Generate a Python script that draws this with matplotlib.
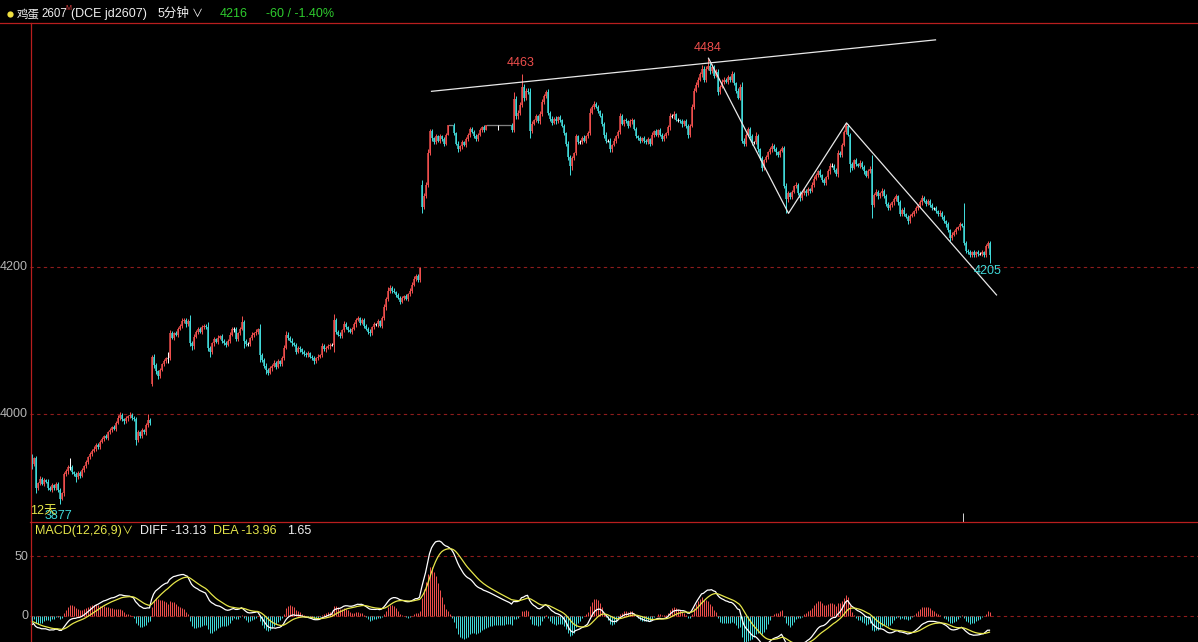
import matplotlib
matplotlib.use("Agg")
import matplotlib.pyplot as plt
from matplotlib.lines import Line2D
import numpy as np

# ---------------- data (5-minute bars) ----------------
first_open = 3944
gap_idx = [60, 195]          # session opens with a price gap
gap_open = [4041, 4312]

close = [
    3932, 3940, 3899, 3906, 3912, 3905, 3910, 3908, 3900, 3897,
    3903, 3899, 3905, 3896, 3885, 3892, 3918, 3922, 3928, 3928,
    3921, 3918, 3914, 3920, 3916, 3924, 3929, 3935, 3941, 3946,
    3950, 3953, 3958, 3955, 3962, 3966, 3970, 3968, 3975, 3978,
    3982, 3980, 3988, 3995, 3999, 3993, 3990, 3994, 3997, 3999,
    3995, 3993, 3965, 3975, 3970, 3978, 3975, 3985, 3992, 3988,
    4077, 4067, 4058, 4052, 4060, 4068, 4072, 4076, 4076, 4110,
    4104, 4110, 4108, 4116, 4120, 4126, 4128, 4122, 4126, 4096,
    4092, 4105, 4112, 4116, 4112, 4118, 4120, 4118, 4090, 4084,
    4096, 4102, 4098, 4104, 4106, 4100, 4096, 4094, 4100, 4108,
    4115, 4115, 4102, 4110, 4116, 4125, 4100, 4095, 4095, 4103,
    4108, 4110, 4112, 4115, 4080, 4074, 4066, 4060, 4056, 4062,
    4066, 4070, 4064, 4072, 4068, 4076, 4090, 4108, 4104, 4100,
    4096, 4094, 4085, 4090, 4088, 4084, 4082, 4080, 4083, 4078,
    4076, 4072, 4076, 4078, 4080, 4092, 4088, 4090, 4092, 4094,
    4094, 4128, 4112, 4108, 4106, 4114, 4122, 4118, 4114, 4112,
    4116, 4122, 4128, 4130, 4124, 4128, 4120, 4116, 4112, 4110,
    4118, 4122, 4122, 4126, 4120, 4130, 4145, 4156, 4168, 4172,
    4168, 4166, 4162, 4158, 4153, 4158, 4160, 4157, 4163, 4168,
    4176, 4184, 4188, 4182, 4198, 4282, 4296, 4312, 4355, 4385,
    4375, 4370, 4378, 4372, 4378, 4374, 4368, 4380, 4393, 4393,
    4393, 4382, 4368, 4360, 4364, 4370, 4366, 4374, 4380, 4388,
    4384, 4378, 4374, 4380, 4386, 4390, 4386, 4393, 4393, 4393,
    4393, 4393, 4393, 4393, 4393, 4393, 4393, 4393, 4393, 4393,
    4386, 4428, 4405, 4410, 4420, 4445, 4430, 4440, 4438, 4385,
    4395, 4400, 4405, 4398, 4408, 4425, 4432, 4438, 4410, 4402,
    4396, 4402, 4398, 4404, 4400, 4392, 4382, 4368, 4350, 4338,
    4348, 4355, 4378, 4370, 4370, 4376, 4372, 4378, 4382, 4410,
    4418, 4422, 4418, 4412, 4406, 4395, 4380, 4372, 4372, 4360,
    4366, 4372, 4378, 4384, 4405, 4395, 4400, 4398, 4392, 4398,
    4400, 4388, 4378, 4375, 4372, 4375, 4372, 4370, 4374, 4368,
    4380, 4385, 4380, 4386, 4380, 4374, 4378, 4382, 4390, 4405,
    4405, 4408, 4400, 4400, 4398, 4394, 4398, 4392, 4380, 4392,
    4418, 4440, 4448, 4455, 4462, 4470, 4455, 4470, 4474, 4466,
    4472, 4460, 4465, 4438, 4445, 4452, 4455, 4452, 4458, 4454,
    4462, 4450, 4440, 4430, 4445, 4372, 4368, 4380, 4388, 4378,
    4370, 4370, 4378, 4360, 4348, 4335, 4345, 4350, 4356, 4360,
    4365, 4360, 4356, 4352, 4358, 4362, 4310, 4292, 4300, 4295,
    4302, 4310, 4312, 4300, 4294, 4300, 4304, 4300, 4306, 4304,
    4312, 4320, 4325, 4330, 4325, 4318, 4314, 4322, 4330, 4338,
    4338, 4332, 4326, 4355, 4352, 4366, 4384, 4392, 4380, 4340,
    4335, 4345, 4340, 4338, 4342, 4336, 4330, 4324, 4330, 4334,
    4285, 4298, 4302, 4296, 4300, 4304, 4296, 4286, 4280, 4284,
    4288, 4292, 4296, 4288, 4272, 4278, 4272, 4268, 4262, 4270,
    4272, 4276, 4280, 4284, 4288, 4294, 4290, 4286, 4290, 4284,
    4280, 4280, 4276, 4272, 4274, 4268, 4262, 4258, 4250, 4240,
    4244, 4248, 4252, 4254, 4258, 4256, 4232, 4222, 4220, 4216,
    4220, 4216, 4220, 4218, 4218, 4220, 4216, 4228, 4232, 4216,
]

wick_up = [
    2, 2, 3, 2, 3, 2, 3, 2, 3, 2, 3, 2, 3, 2, 4, 2, 3, 3, 2, 12,
    3, 2, 3, 2, 3, 2, 2, 3, 2, 3, 2, 3, 2, 3, 2, 3, 2, 3, 2, 3,
    2, 3, 2, 3, 4, 3, 2, 3, 2, 4, 3, 2, 3, 3, 2, 3, 2, 3, 8, 3,
    3, 4, 3, 2, 3, 2, 3, 2, 9, 4, 3, 2, 3, 2, 3, 4, 3, 2, 3, 9,
    3, 4, 2, 3, 2, 3, 2, 3, 7, 3, 2, 3, 2, 3, 2, 3, 2, 3, 2, 3,
    3, 4, 3, 2, 3, 8, 3, 2, 3, 2, 3, 2, 3, 2, 7, 3, 2, 3, 2, 3,
    2, 3, 2, 3, 2, 3, 4, 5, 3, 2, 3, 2, 3, 2, 3, 2, 3, 2, 3, 2,
    2, 3, 2, 3, 2, 4, 3, 2, 3, 2, 3, 8, 3, 2, 3, 2, 4, 3, 2, 3,
    2, 3, 3, 4, 2, 3, 2, 3, 2, 3, 2, 3, 2, 3, 2, 3, 4, 3, 5, 3,
    2, 3, 2, 3, 2, 3, 2, 3, 2, 3, 3, 4, 3, 2, 2, 6, 4, 4, 6, 3,
    3, 2, 3, 2, 3, 2, 3, 2, 0, 0, 0, 3, 2, 3, 2, 3, 2, 3, 2, 3,
    3, 2, 3, 2, 3, 2, 3, 0, 0, 0, 0, 0, 0, 0, 0, 0, 0, 0, 0, 0,
    3, 10, 4, 3, 4, 18, 4, 3, 4, 5, 3, 2, 3, 2, 4, 3, 4, 3, 4, 2,
    3, 2, 3, 2, 3, 2, 3, 2, 3, 2, 3, 2, 3, 2, 3, 2, 3, 2, 3, 6,
    3, 4, 2, 3, 2, 3, 2, 3, 2, 3, 2, 3, 2, 3, 4, 3, 2, 3, 2, 3,
    3, 2, 3, 2, 3, 2, 3, 2, 3, 2, 3, 2, 3, 2, 3, 2, 3, 2, 3, 4,
    3, 4, 2, 3, 2, 3, 2, 3, 2, 3, 4, 4, 3, 4, 3, 5, 3, 4, 10, 3,
    4, 3, 4, 5, 3, 4, 3, 2, 3, 2, 4, 3, 2, 3, 4, 7, 3, 2, 3, 2,
    3, 2, 6, 3, 2, 3, 2, 3, 2, 3, 4, 2, 3, 2, 3, 3, 3, 4, 3, 2,
    3, 2, 3, 2, 3, 2, 3, 2, 3, 2, 3, 4, 3, 2, 3, 2, 3, 2, 3, 3,
    3, 2, 3, 4, 3, 3, 3, 4, 3, 2, 3, 2, 3, 2, 3, 2, 3, 2, 3, 3,
    18, 3, 4, 3, 2, 3, 2, 3, 2, 3, 2, 3, 3, 2, 3, 2, 3, 2, 3, 2,
    3, 2, 3, 2, 3, 4, 3, 2, 3, 2, 3, 2, 3, 2, 3, 2, 3, 2, 3, 2,
    3, 2, 3, 2, 3, 2, 31, 3, 2, 3, 2, 3, 2, 3, 2, 3, 2, 3, 4, 3,
]

wick_dn = [
    7, 3, 6, 2, 3, 2, 3, 2, 3, 2, 3, 2, 3, 2, 8, 2, 3, 2, 3, 4,
    3, 2, 6, 2, 3, 2, 3, 2, 3, 2, 3, 2, 3, 2, 3, 2, 3, 2, 3, 2,
    3, 2, 3, 2, 3, 2, 3, 2, 3, 2, 3, 2, 7, 3, 2, 3, 2, 3, 2, 3,
    3, 4, 4, 5, 3, 2, 3, 2, 6, 3, 2, 3, 2, 3, 2, 3, 2, 3, 2, 3,
    5, 3, 2, 3, 2, 3, 2, 3, 4, 6, 2, 3, 2, 3, 2, 3, 2, 3, 2, 3,
    2, 3, 3, 2, 3, 2, 10, 3, 2, 3, 2, 3, 2, 3, 9, 3, 4, 5, 3, 2,
    3, 2, 3, 2, 3, 2, 3, 2, 3, 2, 3, 2, 4, 2, 3, 2, 3, 2, 3, 2,
    3, 4, 2, 3, 2, 3, 2, 3, 2, 3, 2, 10, 3, 2, 3, 2, 3, 2, 3, 2,
    3, 2, 3, 2, 3, 2, 3, 2, 3, 4, 2, 3, 2, 3, 2, 3, 2, 3, 2, 3,
    3, 2, 3, 2, 4, 2, 3, 2, 3, 2, 3, 2, 3, 3, 2, 8, 3, 2, 3, 2,
    3, 2, 3, 2, 3, 2, 3, 2, 0, 0, 0, 3, 2, 4, 2, 3, 2, 3, 2, 3,
    2, 3, 2, 3, 2, 3, 2, 0, 0, 0, 0, 0, 0, 7, 0, 0, 0, 0, 0, 0,
    3, 3, 3, 4, 3, 3, 4, 3, 3, 10, 3, 2, 3, 2, 3, 2, 3, 2, 3, 4,
    3, 2, 3, 2, 3, 2, 3, 3, 5, 13, 6, 3, 2, 3, 2, 3, 2, 3, 2, 3,
    2, 3, 2, 3, 2, 3, 4, 3, 2, 4, 3, 2, 3, 2, 3, 2, 3, 2, 3, 2,
    3, 2, 3, 2, 3, 2, 3, 2, 3, 4, 2, 3, 2, 3, 2, 3, 2, 3, 2, 3,
    2, 3, 2, 3, 2, 3, 2, 3, 5, 3, 2, 3, 2, 3, 2, 3, 4, 3, 2, 3,
    2, 3, 2, 4, 3, 2, 3, 2, 3, 2, 3, 2, 3, 2, 3, 3, 4, 3, 2, 3,
    4, 3, 2, 4, 3, 5, 3, 2, 3, 2, 3, 2, 3, 2, 3, 2, 3, 19, 3, 2,
    3, 2, 3, 2, 4, 3, 2, 3, 2, 3, 2, 3, 2, 3, 2, 3, 2, 3, 2, 3,
    2, 3, 2, 3, 2, 3, 2, 3, 2, 11, 3, 2, 3, 2, 3, 2, 3, 2, 3, 2,
    18, 3, 2, 3, 2, 3, 2, 3, 2, 3, 2, 3, 2, 3, 3, 2, 3, 2, 3, 2,
    2, 3, 2, 3, 2, 3, 2, 3, 2, 3, 2, 3, 2, 3, 2, 3, 2, 3, 2, 4,
    3, 2, 3, 2, 3, 2, 2, 3, 2, 3, 2, 3, 2, 3, 2, 3, 2, 3, 2, 11,
]

# MACD state at the first visible bar
diff_start = -7.5
dea_start = -4.7

# hand-drawn trend lines (bar index, price)
trend_top_idx = [200, 452]
trend_top_price = [4439, 4509]
zigzag_idx = [338.5, 378.5, 407.5, 482.5]
zigzag_price = [4484, 4273, 4396, 4162]

price_ticks = [4200, 4000]
macd_ticks = [50, 0]

# ---------------- figure ----------------
W, H = 1198, 642
fig = plt.figure(figsize=(W / 100, H / 100), dpi=100, facecolor="black")
FONT = ["Liberation Sans", "Noto Sans CJK SC", "DejaVu Sans"]
CJK = ["Noto Sans CJK SC", "DejaVu Sans"]
PX = 0.72  # one pixel in points at 100 dpi


def fx(px):
    return px / W


def fy(py):
    return 1 - py / H


ax = fig.add_axes([fx(30), fy(522), fx(1198) - fx(30), fy(22) - fy(522)])
axm = fig.add_axes([fx(30), 0, fx(1198) - fx(30), fy(522)])
for a in (ax, axm):
    a.set_facecolor("black")
    a.set_axis_off()

c = np.array(close, dtype=float)
N = len(c)
o = np.empty(N)
o[0] = first_open
o[1:] = c[:-1]
for gi, go in zip(gap_idx, gap_open):
    o[gi] = go
hi = np.maximum(o, c) + np.array(wick_up[:N])
lo = np.minimum(o, c) - np.array(wick_dn[:N])
idx = np.arange(N)

step = (989 - 31) / (N - 1)        # pixels per bar
xl = (-(31.5 - 30) / step, (1198 - 31.5) / step)   # bars on pixel centres
ax.set_xlim(*xl)
axm.set_xlim(*xl)
ax.set_ylim(3853.1, 4533.3)
axm.set_ylim(-21.7, 78.3)

RED = "#ee4e4c"
CYAN = "#40d8d8"
up = c > o
dn = c < o
eq = c == o
cols = np.where(up, RED, np.where(dn, CYAN, "#ffffff"))

ne = ~eq
ax.vlines(idx, lo, hi, colors=cols, lw=PX, zorder=3)
ax.vlines(idx[ne], o[ne], c[ne], colors=cols[ne], lw=1.5 * PX, zorder=3)
ax.hlines(c[eq], idx[eq] - 0.4, idx[eq] + 0.4, colors="#ffffff", lw=1.3 * PX, zorder=3)

# grid lines
GRID = "#8e1c1c"
for t in price_ticks:
    ax.axhline(t, color=GRID, lw=0.8, ls=(0, (3, 3)), zorder=1)
for t in macd_ticks:
    axm.axhline(t, color=GRID, lw=0.8, ls=(0, (3, 3)), zorder=1)

# trend lines
ax.plot(trend_top_idx, trend_top_price, color="#e8e8e8", lw=0.9, zorder=4)
ax.plot(zigzag_idx, zigzag_price, color="#e8e8e8", lw=0.9, zorder=4)

# current-bar marker
ax.vlines([(963 - 31.5) / step], 3853.1, 3865, colors="#cfcfcf", lw=PX)


# ---------------- MACD (12,26,9) ----------------
def ema(arr, n, start):
    a = 2.0 / (n + 1)
    out = np.empty(len(arr))
    out[0] = start
    for k in range(1, len(arr)):
        out[k] = a * arr[k] + (1 - a) * out[k - 1]
    return out


ema12 = ema(c, 12, c[0])
ema26 = ema(c, 26, c[0] - diff_start)
diff = ema12 - ema26
dea = ema(diff, 9, dea_start)
hist = 2 * (diff - dea)
hcols = np.where(hist >= 0, RED, CYAN)
axm.vlines(idx, 0, hist, colors=hcols, lw=PX, zorder=2)
axm.plot(idx, diff, color="#ffffff", lw=0.9, zorder=3)
axm.plot(idx, dea, color="#e6e64a", lw=0.9, zorder=3)

# ---------------- borders ----------------
BORDER = "#b81e1e"
fig.add_artist(Line2D([0, 1], [fy(22.5), fy(22.5)], transform=fig.transFigure, color=BORDER, lw=0.9))
fig.add_artist(Line2D([fx(30.5), fx(30.5)], [fy(22.5), 0], transform=fig.transFigure, color=BORDER, lw=0.9))
fig.add_artist(Line2D([fx(30), 1], [fy(522), fy(522)], transform=fig.transFigure, color=BORDER, lw=0.9))


# ---------------- texts ----------------
def ftext(px, py, s, color, size=9, ha="left", family=FONT, **kw):
    fig.text(fx(px), fy(py), s, color=color, fontsize=size, ha=ha, va="center",
             family=family, **kw)


GRAY = "#b4b4b4"
ftext(28, 267, "4200", GRAY, ha="right")
ftext(28, 414, "4000", GRAY, ha="right")
ftext(28, 557, "50", GRAY, ha="right")
ftext(28, 616, "0", GRAY, ha="right")

# header
fig.add_artist(Line2D([fx(10)], [fy(14)], transform=fig.transFigure, marker="o",
                      markersize=4.5, color="#f0e040", markeredgewidth=0))
ftext(17, 14, "鸡蛋", "#f0f0f0", size=8.3, family=CJK)
ftext(41, 14, "2607", "#f0f0f0", size=8.3)
ftext(65, 9, "M", "#e04040", size=5)
ftext(71, 14, "(DCE jd2607)", "#f0f0f0")
ftext(158, 14, "5分钟", "#f0f0f0")
ftext(192, 14, "∨", "#f0f0f0", size=8)
ftext(220, 14, "4216", "#2ecc2e")
ftext(266, 14, "-60 / -1.40%", "#2ecc2e")

# MACD header
YEL = "#e6e64a"
ftext(35, 531, "MACD(12,26,9)", YEL)
ftext(122, 531, "∨", YEL, size=8)
ftext(140, 531, "DIFF -13.13", "#f0f0f0")
ftext(213, 531, "DEA -13.96", YEL)
ftext(287, 531, "1.65", "#f0f0f0")

# price annotations
ftext(521, 63, "4463", RED, ha="center")
ftext(708, 48, "4484", RED, ha="center")
ftext(988, 271, "4205", CYAN, ha="center")
ftext(45, 516, "3877", CYAN)
ftext(30, 511, "12天", YEL)

fig.savefig("out.png", dpi=100, facecolor="black")
